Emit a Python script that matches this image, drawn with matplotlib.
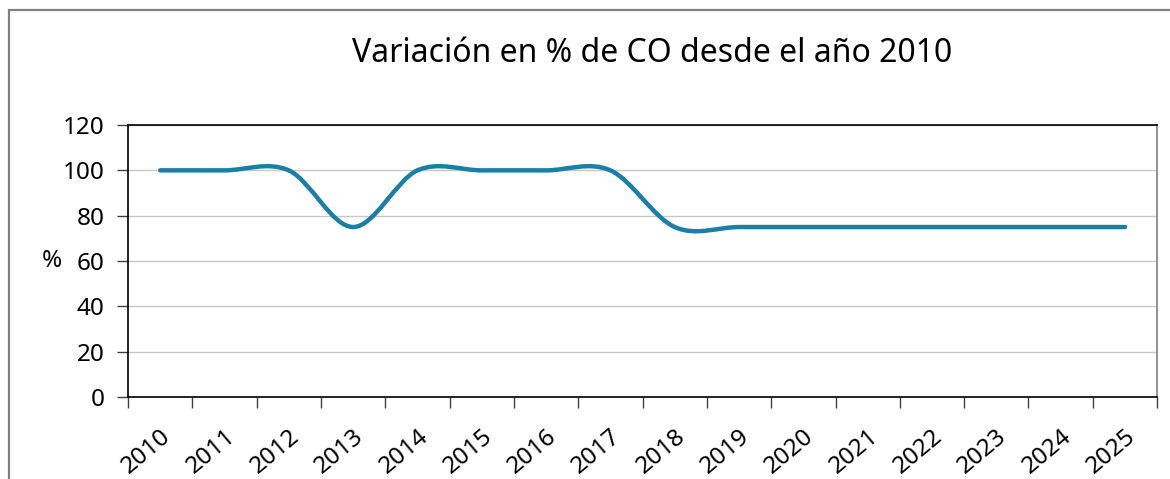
import numpy as np
import matplotlib
matplotlib.use("Agg")
import matplotlib.pyplot as plt
from matplotlib.path import Path
from matplotlib.patches import PathPatch, Rectangle

# Datos del gráfico
anios = ['2010', '2011', '2012', '2013', '2014', '2015', '2016', '2017',
         '2018', '2019', '2020', '2021', '2022', '2023', '2024', '2025']
variacion_co = [100, 100, 100, 75, 100, 100, 100, 100,
                75, 75, 75, 75, 75, 75, 75, 75]
yticks = [0, 20, 40, 60, 80, 100, 120]

plt.rcParams['font.family'] = ['Noto Sans', 'DejaVu Sans']

fig = plt.figure(figsize=(11.7, 4.79), dpi=100)
ax = fig.add_axes([0.1094, 0.171, 0.8796, 0.568])

# Línea suavizada (tipo Excel): curvas Bezier entre puntos
x = np.arange(len(anios))
y = np.array(variacion_co, dtype=float)
verts = [(x[0], y[0])]
codes = [Path.MOVETO]
for i in range(len(x) - 1):
    x0, y0 = (x[i - 1], y[i - 1]) if i > 0 else (x[i], y[i])
    x3, y3 = (x[i + 2], y[i + 2]) if i + 2 < len(x) else (x[i + 1], y[i + 1])
    c1 = (x[i] + (x[i + 1] - x0) / 6, y[i] + (y[i + 1] - y0) / 6)
    c2 = (x[i + 1] - (x3 - x[i]) / 6, y[i + 1] - (y3 - y[i]) / 6)
    verts += [c1, c2, (x[i + 1], y[i + 1])]
    codes += [Path.CURVE4] * 3
ax.add_patch(PathPatch(Path(verts, codes), facecolor='none',
                       edgecolor='#1a7fa4', lw=3.2, capstyle='round', zorder=3))

ax.set_xlim(-0.5, len(anios) - 0.5)
ax.set_ylim(0, 120)
ax.set_yticks(yticks)
ax.set_yticklabels([str(v) for v in yticks], fontsize=17.5)
ax.yaxis.grid(True, color='#c8c8c8', lw=1)
ax.set_axisbelow(True)

ax.set_xticks(x)
ax.set_xticklabels(anios, rotation=40, ha='right', rotation_mode='anchor', fontsize=17.5)
ax.set_xticks(np.arange(-0.5, len(anios)), minor=True)
ax.tick_params(axis='x', which='major', length=0, pad=20)
ax.tick_params(axis='x', which='minor', length=8, width=1, color='#404040')
ax.tick_params(axis='y', length=8, width=1, color='#404040', pad=9)

ax.spines['left'].set_color('black')
ax.spines['bottom'].set_color('black')
ax.spines['top'].set_color('black')
ax.spines['right'].set_color('#808080')
for s in ax.spines.values():
    s.set_linewidth(1.2)

ax.set_ylabel('%', rotation=0, fontsize=17.5, va='center')
ax.yaxis.set_label_coords(-0.074, 0.5)

fig.text(0.557, 0.889, 'Variación en % de CO desde el año 2010', ha='center',
         va='center', fontsize=23)

# Borde del área del gráfico
fig.patches.append(Rectangle((9 / 1170, -0.1), 1.1, 1.1 - 10 / 479,
                             transform=fig.transFigure, fill=False,
                             edgecolor='#808080', lw=1.6))

plt.savefig('out.png', dpi=100)
